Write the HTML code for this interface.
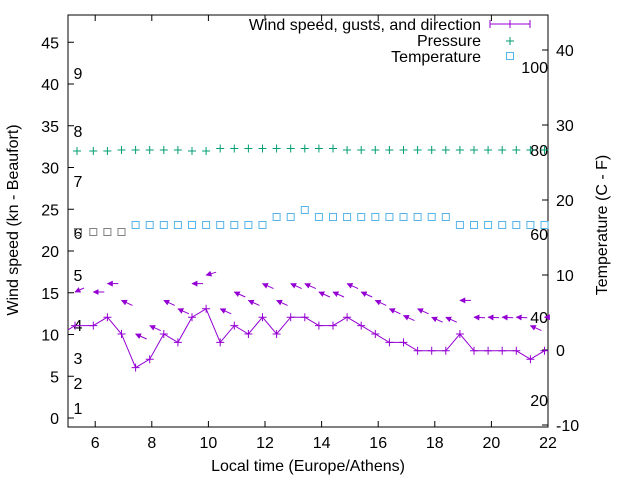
<!DOCTYPE html>
<html><head><meta charset="utf-8"><style>
html,body{margin:0;padding:0;background:#fff;}
svg{display:block;font-family:"Liberation Sans",sans-serif;}
</style></head><body>
<svg id="s" width="640" height="480" viewBox="0 0 640 480" xmlns="http://www.w3.org/2000/svg">
<defs>
<marker id="ah" viewBox="0 0 10 10" refX="9" refY="5" markerWidth="6" markerHeight="6" orient="auto" markerUnits="userSpaceOnUse">
<path d="M10,5 L0,0 L0,10 Z" fill="#9400d3"/></marker>
</defs>
<rect x="68" y="15" width="480" height="412" fill="none" stroke="#000" stroke-width="1"/>
<g id="g"></g>
<g font-size="16" fill="#000">
<text x="14" y="220" transform="rotate(-90 14 220)" text-anchor="middle" dominant-baseline="middle">Wind speed (kn - Beaufort)</text>
<text x="603" y="225" transform="rotate(-90 603 225)" text-anchor="middle" dominant-baseline="middle">Temperature (C - F)</text>
<text x="308" y="471" text-anchor="middle">Local time (Europe/Athens)</text>
</g>
<g font-size="16" text-anchor="end">
<text x="481" y="30">Wind speed, gusts, and direction</text>
<text x="481" y="46">Pressure</text>
<text x="481" y="62">Temperature</text>
</g>
<line x1="490" y1="24" x2="530" y2="24" stroke="#9400d3"/>
<line x1="490" y1="20" x2="490" y2="28" stroke="#9400d3"/>
<line x1="530" y1="20" x2="530" y2="28" stroke="#9400d3"/>
<path d="M506,24h8M510,20v8" stroke="#9400d3"/>
<path d="M506,41h8M510,37v8" stroke="#009e73"/>
<rect x="506.5" y="52.5" width="7" height="7" fill="none" stroke="#56b4e9"/>
</svg>
<script>
var g=document.getElementById('g'),h='';
function L(a,b,c,d,s){h+='<line x1="'+a+'" y1="'+b+'" x2="'+c+'" y2="'+d+'" stroke="'+(s||'#000')+'"/>';}
function T(x,y,t,a){h+='<text x="'+x+'" y="'+y+'" font-size="16" text-anchor="'+(a||'middle')+'">'+t+'</text>';}
for(var v=0;v<=45;v+=5){var y=418-8.35*v;L(68,y,74,y);T(59,y+6,v,'end');}
for(var t=6;t<=22;t+=2){var x=548-(22-t)*28.3;L(x,427,x,421);L(x,15,x,21);T(x,448,t);}
for(var c=-10;c<=40;c+=10){var y=350-7.5*c;L(548,y,542,y);T(556,y+6,c,'start');}
[[100,73],[80,156],[60,240],[40,323],[20,406]].forEach(function(p){T(548,p[1],p[0],'end');});
[[1,414],[2,389],[3,364],[4,331],[5,281],[6,239],[7,187],[8,137],[9,79]].forEach(function(p){T(78,p[1],p[0],'middle');});
var X=[75];for(var i=1;i<34;i++)X.push(93.3+14.1*(i-1));
var W=[11,11,12,10,6,7,10,9,12,13,9,11,10,12,10,12,12,11,11,12,11,10,9,9,8,8,8,10,8,8,8,8,7,8];
var G=[15,15,16,14,10,11,14,13,16,17,13,15,14,16,14,16,16,15,15,16,15,14,13,12.2,13,12,12,14,12,12,12,12,11,12];
function yv(v){return 418-8.4*v;}
var pts='68,'+yv(10.5);
W.forEach(function(v,i){pts+=' '+X[i]+','+yv(v);});
h+='<polyline points="'+pts+'" fill="none" stroke="#9400d3"/>';
W.forEach(function(v,i){var x=X[i],y=yv(v);h+='<path d="M'+(x-4)+','+y+'h8M'+x+','+(y-4)+'v8" stroke="#9400d3"/>';});
G.forEach(function(v,i){var x=X[i],y=yv(v),dx=11,dy=5;
 if(i==0){dx=9;dy=-4;} if(i==1||i==2||i==8||(i>=27&&i<=31)){dx=11;dy=(i>=28?0.5:0);} if(i==9){dx=10;dy=-3;}
 if(i==33){dx=5;dy=0;}
 h+='<line x1="'+(x+dx)+'" y1="'+(y+dy)+'" x2="'+x+'" y2="'+y+'" stroke="#9400d3" marker-end="url(#ah)"/>';
});
var PY=[151,151,151,150,150,150,150,150,151,151,148.5,148.5,148.5,148.5,148.5,148.5,148.5,148.5,148.5,150,150,150,150,150,150,150,150,150,150,150,150,150,150,150];
PY.forEach(function(y,i){var x=X[i]+(i==0?2:0);h+='<path d="M'+(x-4)+','+y+'h8M'+x+','+(y-4)+'v8" stroke="#009e73"/>';});
var TY=[];for(i=0;i<4;i++)TY.push(232);for(i=0;i<10;i++)TY.push(225);TY.push(217,217,210);for(i=0;i<10;i++)TY.push(217);for(i=0;i<7;i++)TY.push(225);
TY.forEach(function(y,i){var x=(i==0?78:X[i]);var col=i<4?'#808080':'#56b4e9';h+='<rect x="'+(x-3.5)+'" y="'+(y-3.5)+'" width="7" height="7" fill="none" stroke="'+col+'"/>';});
g.innerHTML=h;
</script>
</body></html>
